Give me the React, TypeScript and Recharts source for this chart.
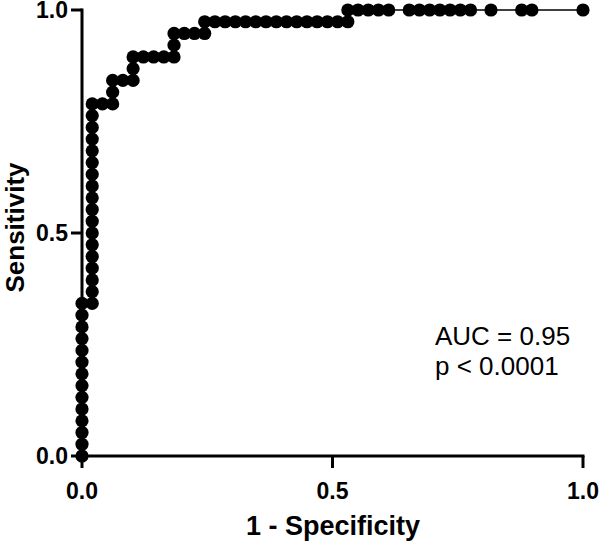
import React from 'react';
import { ScatterChart, Scatter, XAxis, YAxis, Customized } from 'recharts';

// 1 - Specificity (false positive rate) for each ROC point
const fpr: number[] = [
  0, 0, 0, 0, 0, 0, 0, 0, 0, 0, 0, 0, 0, 0,
  0.0204, 0.0204, 0.0204, 0.0204, 0.0204, 0.0204, 0.0204, 0.0204, 0.0204,
  0.0204, 0.0204, 0.0204, 0.0204, 0.0204, 0.0204, 0.0204, 0.0204, 0.0204,
  0.0408, 0.0612, 0.0612, 0.0612, 0.0816, 0.1020, 0.1020, 0.1020,
  0.1224, 0.1429, 0.1633, 0.1837,
  0.1837, 0.1837,
  0.2041, 0.2245, 0.2449,
  0.2449, 0.2653, 0.2857, 0.3061, 0.3265, 0.3469, 0.3673, 0.3878, 0.4082,
  0.4286, 0.4490, 0.4694, 0.4898, 0.5102, 0.5306,
  0.5306, 0.5510, 0.5714, 0.5918, 0.6122,
  0.6531, 0.6735, 0.6939, 0.7143, 0.7347, 0.7551, 0.7755,
  0.8163, 0.8776, 0.8980, 1.0,
];

// Sensitivity for each ROC point
const sens: number[] = [
  0, 0.0263, 0.0526, 0.0789, 0.1053, 0.1316, 0.1579, 0.1842, 0.2105, 0.2368,
  0.2632, 0.2895, 0.3158, 0.3421,
  0.3421, 0.3684, 0.3947, 0.4211, 0.4474, 0.4737, 0.5000, 0.5263, 0.5526,
  0.5789, 0.6053, 0.6316, 0.6579, 0.6842, 0.7105, 0.7368, 0.7632, 0.7895,
  0.7895, 0.7895, 0.8158, 0.8421, 0.8421, 0.8421, 0.8684, 0.8947,
  0.8947, 0.8947, 0.8947, 0.8947,
  0.9211, 0.9474,
  0.9474, 0.9474, 0.9474,
  0.9737, 0.9737, 0.9737, 0.9737, 0.9737, 0.9737, 0.9737, 0.9737, 0.9737,
  0.9737, 0.9737, 0.9737, 0.9737, 0.9737, 0.9737,
  1, 1, 1, 1, 1,
  1, 1, 1, 1, 1, 1, 1,
  1, 1, 1, 1,
];

const xTicks = [0, 0.5, 1];
const yTicks = [0, 0.5, 1];
const xTitle = '1 - Specificity';
const yTitle = 'Sensitivity';
const notes = ['AUC = 0.95', 'p < 0.0001'];

const FONT = '"Liberation Sans", Arial, Helvetica, sans-serif';

const Dot = (props: any) => (
  <circle cx={props.cx} cy={props.cy} r={6.6} fill="#000" />
);

const Annotations = () => (
  <g>
    <text
      x={333}
      y={535}
      textAnchor="middle"
      fontFamily={FONT}
      fontWeight={700}
      fontSize={27}
      fill="#000"
    >
      {xTitle}
    </text>
    <text
      x={0}
      y={0}
      transform="translate(23.5,227.5) rotate(-90)"
      textAnchor="middle"
      fontFamily={FONT}
      fontWeight={700}
      fontSize={26}
      fill="#000"
    >
      {yTitle}
    </text>
    <text x={435} y={345} fontFamily={FONT} fontSize={26} fill="#000">
      {notes[0]}
    </text>
    <text x={435} y={375} fontFamily={FONT} fontSize={26} fill="#000">
      {notes[1]}
    </text>
  </g>
);

export default function App() {
  const data = fpr.map((x, i) => ({ x, y: sens[i] }));
  const tickStyle = { fill: '#000', fontSize: 23, fontWeight: 700, fontFamily: FONT };
  return (
    <div style={{ position: 'absolute', left: 0, top: 0, background: '#fff' }}>
      <ScatterChart width={600} height={542} margin={{ top: 10, right: 17, bottom: 0, left: 0 }}>
        <XAxis
          type="number"
          dataKey="x"
          domain={[0, 1]}
          ticks={xTicks}
          tickFormatter={(v: number) => v.toFixed(1)}
          height={86}
          axisLine={{ stroke: '#000', strokeWidth: 3, strokeLinecap: 'square' }}
          tickLine={{ stroke: '#000', strokeWidth: 3 }}
          tickSize={12}
          tickMargin={15}
          tick={tickStyle}
          interval={0}
        />
        <YAxis
          type="number"
          dataKey="y"
          domain={[0, 1]}
          ticks={yTicks}
          tickFormatter={(v: number) => v.toFixed(1)}
          width={82}
          axisLine={{ stroke: '#000', strokeWidth: 3, strokeLinecap: 'square' }}
          tickLine={{ stroke: '#000', strokeWidth: 3 }}
          tickSize={11}
          tickMargin={3}
          tick={tickStyle}
          interval={0}
        />
        <Scatter
          data={data}
          line={{ stroke: '#000', strokeWidth: 1.5 }}
          lineType="joint"
          shape={Dot}
          isAnimationActive={false}
        />
        <Customized component={Annotations} />
      </ScatterChart>
    </div>
  );
}
